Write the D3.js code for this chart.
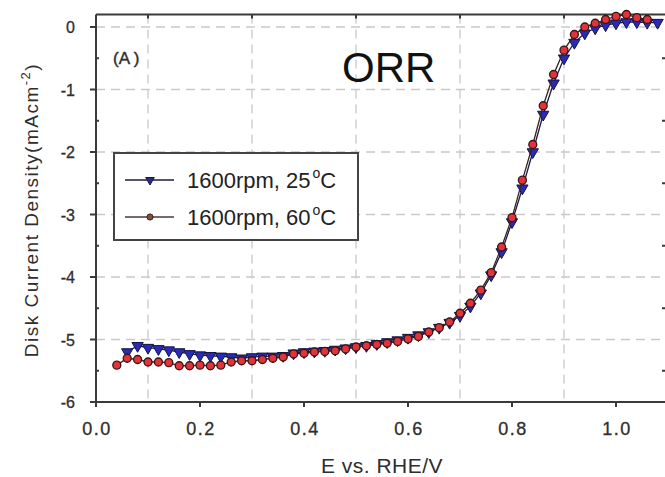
<!DOCTYPE html>
<html>
<head>
<meta charset="utf-8">
<script src="https://cdn.jsdelivr.net/npm/d3@7"></script>
<style>
  body { margin: 0; background: #fff; }
  svg { display: block; font-family: "Liberation Sans", Arial, sans-serif; }
</style>
</head>
<body>
<svg id="chart" width="665" height="477"></svg>
<script>
// ---- data ----
const xTicks = [0.0, 0.2, 0.4, 0.6, 0.8, 1.0];
const xTickLabels = ["0.0", "0.2", "0.4", "0.6", "0.8", "1.0"];
const xGrid = [0.1, 0.3, 0.5, 0.7, 0.9];
const yTicks = [0, -1, -2, -3, -4, -5, -6];
const yTickLabels = ["0", "-1", "-2", "-3", "-4", "-5", "-6"];
const yMinor = [-0.5, -1.5, -2.5, -3.5, -4.5, -5.5];
const seriesNames = ["1600rpm, 25", "1600rpm, 60"];

const potential25 = [0.06,0.08,0.10,0.12,0.14,0.16,0.18,0.20,0.22,0.24,0.26,0.28,0.30,0.32,0.34,0.36,0.38,0.40,0.42,0.44,0.46,0.48,0.50,0.52,0.54,0.56,0.58,0.60,0.62,0.64,0.66,0.68,0.70,0.72,0.74,0.76,0.78,0.80,0.82,0.84,0.86,0.88,0.90,0.92,0.94,0.96,0.98,1.00,1.02,1.04,1.06,1.08];
const current25 = [-5.20,-5.10,-5.13,-5.15,-5.17,-5.20,-5.23,-5.25,-5.26,-5.27,-5.28,-5.30,-5.28,-5.27,-5.27,-5.26,-5.22,-5.20,-5.19,-5.18,-5.16,-5.14,-5.12,-5.10,-5.07,-5.04,-5.01,-4.97,-4.93,-4.88,-4.81,-4.73,-4.62,-4.47,-4.26,-3.97,-3.60,-3.12,-2.58,-2.00,-1.40,-0.90,-0.50,-0.25,-0.10,-0.02,0.03,0.06,0.08,0.08,0.07,0.07];

const potential60 = [0.04,0.06,0.08,0.10,0.12,0.14,0.16,0.18,0.20,0.22,0.24,0.26,0.28,0.30,0.32,0.34,0.36,0.38,0.40,0.42,0.44,0.46,0.48,0.50,0.52,0.54,0.56,0.58,0.60,0.62,0.64,0.66,0.68,0.70,0.72,0.74,0.76,0.78,0.80,0.82,0.84,0.86,0.88,0.90,0.92,0.94,0.96,0.98,1.00,1.02,1.04,1.06];
const current60 = [-5.41,-5.30,-5.32,-5.36,-5.36,-5.37,-5.42,-5.42,-5.41,-5.42,-5.41,-5.36,-5.34,-5.34,-5.32,-5.30,-5.28,-5.23,-5.22,-5.20,-5.19,-5.18,-5.15,-5.12,-5.10,-5.08,-5.06,-5.03,-4.99,-4.95,-4.88,-4.81,-4.72,-4.58,-4.42,-4.21,-3.93,-3.52,-3.05,-2.45,-1.88,-1.26,-0.76,-0.37,-0.12,0.00,0.06,0.12,0.17,0.20,0.15,0.12];

// ---- layout ----
const svg = d3.select("#chart");
const x = d3.scaleLinear().domain([0, 1.1]).range([96, 668]);
const y = d3.scaleLinear().domain([-6, 0.2]).range([402, 14.5]);

const gridColor = "#c9c9c9";
svg.append("g").selectAll("line").data(yTicks.filter(d => d > -6)).join("line")
  .attr("x1", x(0)).attr("x2", x(1.1)).attr("y1", d => y(d)).attr("y2", d => y(d))
  .attr("stroke", gridColor).attr("stroke-width", 1.3).attr("stroke-dasharray", "9,6");
svg.append("g").selectAll("line").data(xGrid).join("line")
  .attr("x1", d => x(d)).attr("x2", d => x(d)).attr("y1", y(0.2)).attr("y2", y(-6))
  .attr("stroke", gridColor).attr("stroke-width", 1.3).attr("stroke-dasharray", "9,6");

const axisColor = "#3a3a3a";
svg.append("line").attr("x1", x(0)).attr("x2", x(1.1)).attr("y1", y(0.2)).attr("y2", y(0.2))
  .attr("stroke", axisColor).attr("stroke-width", 2);
svg.append("line").attr("x1", x(0)).attr("x2", x(1.1)).attr("y1", y(-6)).attr("y2", y(-6))
  .attr("stroke", axisColor).attr("stroke-width", 2);
svg.append("line").attr("x1", x(0)).attr("x2", x(0)).attr("y1", y(0.2)).attr("y2", y(-6))
  .attr("stroke", axisColor).attr("stroke-width", 2);
svg.append("line").attr("x1", x(1.1)).attr("x2", x(1.1)).attr("y1", y(0.2)).attr("y2", y(-6))
  .attr("stroke", axisColor).attr("stroke-width", 2);

svg.append("g").selectAll("line").data(xTicks).join("line")
  .attr("x1", d => x(d)).attr("x2", d => x(d)).attr("y1", y(-6)).attr("y2", y(-6) + 5)
  .attr("stroke", axisColor).attr("stroke-width", 2);
svg.append("g").selectAll("line").data(xGrid).join("line")
  .attr("x1", d => x(d)).attr("x2", d => x(d)).attr("y1", y(0.2)).attr("y2", y(0.2) + 4)
  .attr("stroke", axisColor).attr("stroke-width", 2);
svg.append("g").selectAll("line").data(yTicks).join("line")
  .attr("x1", x(0) - 6).attr("x2", x(0)).attr("y1", d => y(d)).attr("y2", d => y(d))
  .attr("stroke", axisColor).attr("stroke-width", 2);
svg.append("g").selectAll("line").data(yMinor).join("line")
  .attr("x1", x(0)).attr("x2", x(0) + 3).attr("y1", d => y(d)).attr("y2", d => y(d))
  .attr("stroke", axisColor).attr("stroke-width", 2);
svg.append("g").selectAll("line").data(yMinor).join("line")
  .attr("x1", x(1.1) - 6).attr("x2", x(1.1)).attr("y1", d => y(d)).attr("y2", d => y(d))
  .attr("stroke", axisColor).attr("stroke-width", 2);

const labelColor = "#2e2e2e";
svg.append("g").selectAll("text").data(xTicks).join("text")
  .attr("x", d => x(d) + 1).attr("y", 435)
  .attr("text-anchor", "middle").attr("font-size", 18).attr("letter-spacing", 1.5)
  .attr("stroke", labelColor).attr("stroke-width", 0.3)
  .attr("fill", labelColor).text((d, i) => xTickLabels[i]);
svg.append("g").selectAll("text").data(yTicks).join("text")
  .attr("x", 75).attr("y", d => y(d) + 6)
  .attr("text-anchor", "end").attr("font-size", 16)
  .attr("stroke", labelColor).attr("stroke-width", 0.3)
  .attr("fill", labelColor).text((d, i) => yTickLabels[i]);

svg.append("text").attr("x", 382).attr("y", 473).attr("text-anchor", "middle")
  .attr("font-size", 21).attr("letter-spacing", 0.5).attr("fill", labelColor).text("E vs. RHE/V");
const yt = svg.append("text").attr("transform", "translate(38,210) rotate(-90)")
  .attr("text-anchor", "middle").attr("font-size", 19).attr("letter-spacing", 1.5).attr("fill", labelColor);
yt.append("tspan").text("Disk Current Density(mAcm");
yt.append("tspan").attr("font-size", 13).attr("dy", -8).text("-2");
yt.append("tspan").attr("dy", 8).text(")");

svg.append("text").attr("x", 113).attr("y", 64).attr("font-size", 17)
  .attr("stroke", labelColor).attr("stroke-width", 0.4).attr("fill", labelColor).text("(A )");
svg.append("text").attr("x", 342).attr("y", 82).attr("font-size", 42).attr("fill", "#111").text("ORR");

const s25 = potential25.map((v, i) => [v, current25[i]]);
const s60 = potential60.map((v, i) => [v, current60[i]]);
const line = d3.line().x(d => x(d[0])).y(d => y(d[1]));
const tri = d3.symbol().type(d3.symbolTriangle).size(55);
const circ = d3.symbol().type(d3.symbolCircle).size(50);

svg.append("path").datum(s25).attr("d", line).attr("fill", "none")
  .attr("stroke", "#1c1c44").attr("stroke-width", 1.3);
svg.append("g").selectAll("path").data(s25).join("path")
  .attr("d", tri).attr("transform", d => `translate(${x(d[0])},${y(d[1])}) rotate(180)`)
  .attr("fill", "#2a2ab8").attr("stroke", "#141440").attr("stroke-width", 1);

svg.append("path").datum(s60).attr("d", line).attr("fill", "none")
  .attr("stroke", "#3a2222").attr("stroke-width", 1.3);
svg.append("g").selectAll("path").data(s60).join("path")
  .attr("d", circ).attr("transform", d => `translate(${x(d[0])},${y(d[1])})`)
  .attr("fill", "#e0343c").attr("stroke", "#3a1414").attr("stroke-width", 1.3);

const lg = svg.append("g");
lg.append("rect").attr("x", 114).attr("y", 153).attr("width", 244).attr("height", 87)
  .attr("fill", "#fff").attr("stroke", "#444").attr("stroke-width", 2);
const rows = [
  { name: seriesNames[0], yy: 180, lc: "#1c1c44", sym: d3.symbol().type(d3.symbolTriangle).size(32), rot: 180, fill: "#2a2a90", st: "#141440" },
  { name: seriesNames[1], yy: 217, lc: "#4a3a3a", sym: d3.symbol().type(d3.symbolCircle).size(30), rot: 0, fill: "#8a4a3a", st: "#3a2020" }
];
rows.forEach(r => {
  lg.append("line").attr("x1", 125).attr("x2", 174).attr("y1", r.yy).attr("y2", r.yy)
    .attr("stroke", r.lc).attr("stroke-width", 1.5);
  lg.append("path").attr("d", r.sym()).attr("transform", `translate(150,${r.yy}) rotate(${r.rot})`)
    .attr("fill", r.fill).attr("stroke", r.st).attr("stroke-width", 1);
  const t = lg.append("text").attr("x", 187).attr("y", r.yy + 8).attr("font-size", 22).attr("fill", "#222");
  t.append("tspan").text(r.name);
  t.append("tspan").attr("font-size", 14).attr("dy", -10).attr("dx", 2).text("o");
  t.append("tspan").attr("dy", 10).text("C");
});
</script>
</body>
</html>
